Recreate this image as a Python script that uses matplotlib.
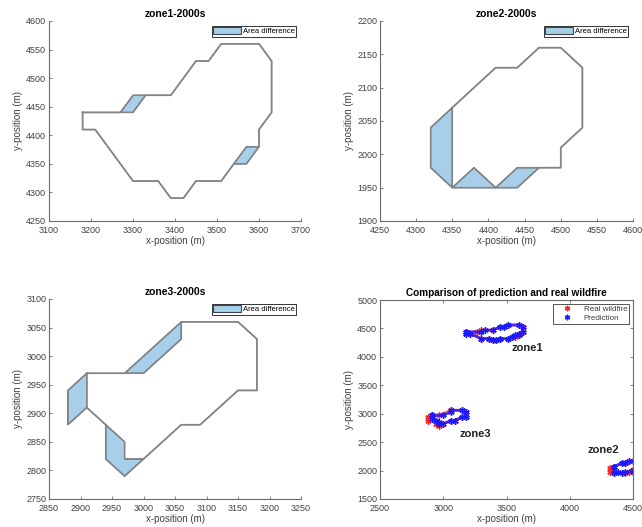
import matplotlib.pyplot as plt
from matplotlib.lines import Line2D

plt.rcParams['font.family'] = ['Liberation Sans', 'DejaVu Sans']

# zone1 polygons (x, y in m)
z1_real_x = [3180, 3270, 3300, 3390, 3450, 3480, 3510, 3600, 3630, 3630, 3600, 3600, 3570, 3540,
             3510, 3450, 3420, 3390, 3360, 3300, 3210, 3180, 3180]
z1_real_y = [4440, 4440, 4470, 4470, 4530, 4530, 4560, 4560, 4530, 4440, 4410, 4380, 4350, 4350,
             4320, 4320, 4290, 4290, 4320, 4320, 4410, 4410, 4440]
z1_pred_x = [3180, 3300, 3330, 3390, 3450, 3480, 3510, 3600, 3630, 3630, 3600, 3600, 3570, 3540,
             3510, 3450, 3420, 3390, 3360, 3300, 3210, 3180, 3180]
z1_pred_y = [4440, 4440, 4470, 4470, 4530, 4530, 4560, 4560, 4530, 4440, 4410, 4380, 4380, 4350,
             4320, 4320, 4290, 4290, 4320, 4320, 4410, 4410, 4440]
z1_diff = [([3270, 3300, 3330, 3300], [4440, 4440, 4470, 4470]),
           ([3540, 3570, 3600, 3570], [4350, 4350, 4380, 4380])]

# zone2 polygons
z2_real_x = [4350, 4410, 4440, 4470, 4500, 4530, 4530, 4500, 4500, 4470, 4440, 4350, 4320, 4320, 4350]
z2_real_y = [2070, 2130, 2130, 2160, 2160, 2130, 2040, 2010, 1980, 1980, 1950, 1950, 1980, 2040, 2070]
z2_pred_x = [4350, 4410, 4440, 4470, 4500, 4530, 4530, 4500, 4500, 4440, 4410, 4380, 4350, 4350]
z2_pred_y = [2070, 2130, 2130, 2160, 2160, 2130, 2040, 2010, 1980, 1980, 1950, 1980, 1950, 2070]
z2_diff = [([4350, 4320, 4320, 4350], [2070, 2040, 1980, 1950]),
           ([4350, 4380, 4410], [1950, 1980, 1950]),
           ([4410, 4440, 4470, 4440], [1950, 1980, 1980, 1950])]

# zone3 polygons
z3_real_x = [2910, 2970, 3060, 3150, 3180, 3180, 3150, 3090, 3060, 3000, 2970, 2940, 2940, 2910,
             2880, 2880, 2910]
z3_real_y = [2970, 2970, 3060, 3060, 3030, 2940, 2940, 2880, 2880, 2820, 2790, 2820, 2880, 2910,
             2880, 2940, 2970]
z3_pred_x = [2910, 3000, 3060, 3060, 3150, 3180, 3180, 3150, 3090, 3060, 3000, 2970, 2970, 2940,
             2910, 2910]
z3_pred_y = [2970, 2970, 3030, 3060, 3060, 3030, 2940, 2940, 2880, 2880, 2820, 2820, 2850, 2880,
             2910, 2970]
z3_diff = [([2970, 3000, 3060, 3060], [2970, 2970, 3030, 3060]),
           ([2910, 2880, 2880, 2910], [2970, 2940, 2880, 2910]),
           ([2940, 2970, 2970, 3000, 2970, 2940], [2880, 2850, 2820, 2820, 2790, 2820])]

zones = [
    ('zone1-2000s', z1_real_x, z1_real_y, z1_pred_x, z1_pred_y, z1_diff,
     (3100, 3700, 100), (4250, 4600, 50)),
    ('zone2-2000s', z2_real_x, z2_real_y, z2_pred_x, z2_pred_y, z2_diff,
     (4250, 4600, 50), (1900, 2200, 50)),
    ('zone3-2000s', z3_real_x, z3_real_y, z3_pred_x, z3_pred_y, z3_diff,
     (2850, 3250, 50), (2750, 3100, 50)),
]

zone_names = ['zone1', 'zone2', 'zone3']
zone_label_x = [3540, 4140, 3125]
zone_label_y = [4160, 2355, 2640]

W, H = 642, 527
positions = [
    [49 / W, (H - 221) / H, 252 / W, 200 / H],
    [380 / W, (H - 221) / H, 253 / W, 200 / H],
    [49 / W, (H - 499) / H, 252 / W, 200 / H],
    [380 / W, (H - 499) / H, 253 / W, 199 / H],
]

fill_col = '#a8cfea'
edge_col = '#3d4650'
line_col = '#858585'
text_col = '#404040'

fig = plt.figure(figsize=(6.42, 5.27), dpi=100)


def style_axes(ax, box=False):
    for s in ['left', 'bottom', 'top', 'right']:
        ax.spines[s].set_color('#6a6a6a')
        ax.spines[s].set_linewidth(0.8)
    if not box:
        ax.spines['top'].set_visible(False)
        ax.spines['right'].set_visible(False)
    ax.tick_params(direction='in', length=2.5, width=0.6, colors='#6a6a6a',
                   labelcolor=text_col, labelsize=6.5, pad=2,
                   top=box, right=box)
    ax.tick_params(axis='x', pad=3.5)
    ax.set_xlabel('x-position (m)', fontsize=7, color=text_col, labelpad=0.5)
    ax.set_ylabel('y-position (m)', fontsize=7, color=text_col, labelpad=2)


for i, (title, rx, ry, px, py, diff, xr, yr) in enumerate(zones):
    ax = fig.add_axes(positions[i])
    ax.plot(rx, ry, color=line_col, lw=1.1)
    ax.plot(px, py, color=line_col, lw=1.1)
    for j, (dx, dy) in enumerate(diff):
        ax.fill(dx, dy, facecolor=fill_col, edgecolor=edge_col, lw=0.8,
                label='Area difference' if j == 0 else None)
    ax.set_xlim(xr[0], xr[1])
    ax.set_ylim(yr[0], yr[1])
    ax.set_xticks(range(xr[0], xr[1] + 1, xr[2]))
    ax.set_yticks(range(yr[0], yr[1] + 1, yr[2]))
    ax.set_title(title, fontsize=7.5, fontweight='bold', pad=3)
    style_axes(ax)
    leg = ax.legend(loc='upper right', fontsize=5.5, handlelength=3.6, handleheight=1.0,
                    borderpad=0.2, handletextpad=0.3, borderaxespad=0.6,
                    fancybox=False, framealpha=1)
    leg.get_frame().set_edgecolor('#333333')
    leg.get_frame().set_linewidth(0.7)

# comparison plot
ax4 = fig.add_axes(positions[3])
real_sets = [(z1_real_x, z1_real_y), (z2_real_x, z2_real_y), (z3_real_x, z3_real_y)]
pred_sets = [(z1_pred_x, z1_pred_y), (z2_pred_x, z2_pred_y), (z3_pred_x, z3_pred_y)]
star = (6, 2, 0)
for rx, ry in real_sets:
    ax4.plot(rx, ry, color='#ff2020', lw=2.0, alpha=0.75)
    ax4.plot(rx, ry, ls='none', marker=star, ms=4.5, mew=1.0, color='#ff2020')
for px, py in pred_sets:
    ax4.plot(px, py, color='#1a1aff', lw=2.0, alpha=0.75)
    ax4.plot(px, py, ls='none', marker=star, ms=4.5, mew=1.0, color='#1a1aff')
for name, lx, ly in zip(zone_names, zone_label_x, zone_label_y):
    ax4.text(lx, ly, name, fontsize=8, fontweight='bold', color='#222222',
             ha='left', va='center')
ax4.set_xlim(2500, 4500)
ax4.set_ylim(1500, 5000)
ax4.set_xticks(range(2500, 4501, 500))
ax4.set_yticks(range(1500, 5001, 500))
ax4.set_title('Comparison of prediction and real wildfire', fontsize=7.2,
              fontweight='bold', pad=3)
style_axes(ax4, box=True)
handles = [Line2D([], [], ls='none', marker=star, ms=4, mew=1.0, color='#ff2020'),
           Line2D([], [], ls='none', marker=star, ms=4, mew=1.0, color='#1a1aff')]
leg = ax4.legend(handles, ['Real wildfire', 'Prediction'], loc='upper right', fontsize=5.8,
                 handlelength=3.0, borderpad=0.2, handletextpad=0.6, labelspacing=0.15,
                 borderaxespad=0.5, fancybox=False, framealpha=1, labelcolor=text_col)
leg.get_frame().set_edgecolor('#555555')
leg.get_frame().set_linewidth(0.7)

fig.savefig('out.png', dpi=100)
